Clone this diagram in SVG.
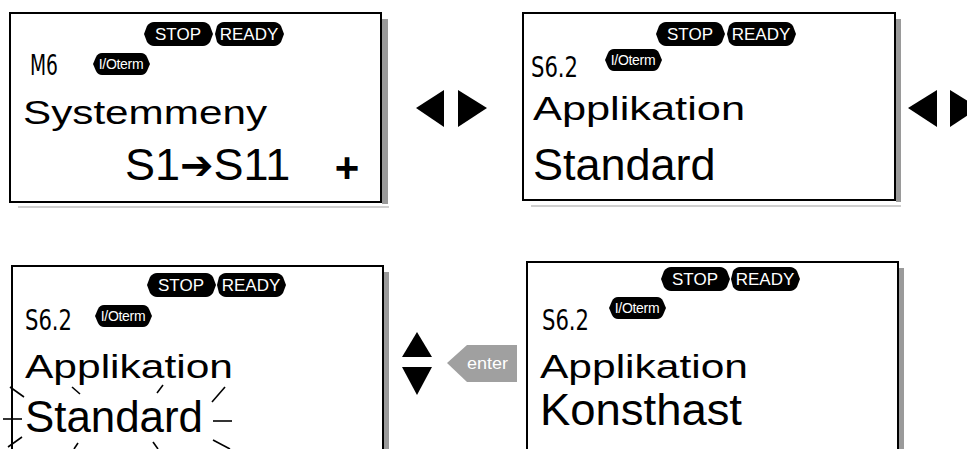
<svg xmlns="http://www.w3.org/2000/svg" width="967" height="449" viewBox="0 0 967 449">
<style>
.box{fill:#fff;stroke:#000;stroke-width:2}
.shr{fill:#9a9a9a}
.shb{stroke:#cfcfcf;stroke-width:2}
.pt{font-family:"Liberation Sans",Arial,sans-serif;font-size:17px;fill:#fff;text-anchor:middle}
.io{font-family:"Liberation Sans",Arial,sans-serif;font-size:14px;fill:#fff;text-anchor:middle;letter-spacing:-0.3px}
.seg{font-family:"DejaVu Sans Condensed","DejaVu Sans",sans-serif;font-size:28px;fill:#000}
.l1{font-family:"Liberation Sans",Arial,sans-serif;font-size:33px;fill:#000}
.l2{font-family:"Liberation Sans",Arial,sans-serif;font-size:45px;fill:#000}
.tri{fill:#000}
.spark{stroke:#000;stroke-width:1.6;fill:none}
</style>
<defs>
<path id="pillS" d="M10,0 H59 Q63,0 66,4 L69,12 L66,20 Q63,24 59,24 H10 Q6,24 3,20 L0,12 L3,4 Q6,0 10,0 Z"/>
<path id="pillR" d="M10,0 H60 Q64,0 67,4 L70,12 L67,20 Q64,24 60,24 H10 Q6,24 3,20 L1,12 L3,4 Q6,0 10,0 Z"/>
<path id="pillI" d="M9,0 H48 Q52,0 54,4 L57,11 L54,18 Q52,22 48,22 H9 Q5,22 3,18 L0,11 L3,4 Q5,0 9,0 Z"/>
</defs>

<g id="box1">
<rect class="shr" x="382" y="19" width="6" height="185"/>
<line class="shb" x1="18" y1="207" x2="389" y2="207"/>
<rect class="box" x="10" y="13" width="371" height="189"/>
<use href="#pillS" x="144" y="22"/><text class="pt" x="178" y="40">STOP</text>
<use href="#pillR" x="214" y="22"/><text class="pt" x="249" y="40">READY</text>
<text class="seg" x="30" y="75" textLength="28" lengthAdjust="spacingAndGlyphs">M6</text>
<use href="#pillI" x="93" y="53"/><text class="io" x="121" y="69">I/Oterm</text>
<text class="l1" x="23" y="124" textLength="244" lengthAdjust="spacingAndGlyphs">Systemmeny</text>
<text class="l2" x="125" y="180" font-size="42">S1<tspan font-family="DejaVu Sans,sans-serif" font-weight="bold" font-size="40" dy="-1">➔</tspan><tspan dy="1">S11</tspan></text>
<text x="347" y="182" font-family="Liberation Sans,Arial,sans-serif" font-weight="bold" font-size="42" text-anchor="middle">+</text>
</g>

<g id="box2">
<rect class="shr" x="896" y="19" width="5" height="183"/>
<line class="shb" x1="531" y1="206" x2="901" y2="206"/>
<rect class="box" x="523" y="13" width="372" height="187"/>
<use href="#pillS" x="656" y="22"/><text class="pt" x="690" y="40">STOP</text>
<use href="#pillR" x="726" y="22"/><text class="pt" x="761" y="40">READY</text>
<text class="seg" x="531" y="77" textLength="47" lengthAdjust="spacingAndGlyphs">S6.2</text>
<use href="#pillI" x="605" y="49"/><text class="io" x="633" y="65">I/Oterm</text>
<text class="l1" x="533" y="120" textLength="212" lengthAdjust="spacingAndGlyphs">Applikation</text>
<text class="l2" x="533" y="180">Standard</text>
</g>

<g id="box3">
<rect class="shr" x="384" y="272" width="5" height="177"/>
<rect class="box" x="12" y="266" width="371" height="200"/>
<use href="#pillS" x="147" y="273"/><text class="pt" x="181" y="291">STOP</text>
<use href="#pillR" x="216" y="273"/><text class="pt" x="251" y="291">READY</text>
<text class="seg" x="25" y="330" textLength="47" lengthAdjust="spacingAndGlyphs">S6.2</text>
<use href="#pillI" x="95" y="305"/><text class="io" x="123" y="321">I/Oterm</text>
<text class="l1" x="25" y="378" textLength="208" lengthAdjust="spacingAndGlyphs">Applikation</text>
<text class="l2" x="25" y="432" textLength="178" lengthAdjust="spacingAndGlyphs">Standard</text>
<g class="spark">
<line x1="10" y1="387" x2="24" y2="397"/>
<line x1="72" y1="387" x2="80" y2="394"/>
<line x1="157" y1="393" x2="163" y2="385"/>
<line x1="212" y1="402" x2="225" y2="387"/>
<line x1="213" y1="421" x2="232" y2="421"/>
<line x1="3" y1="419" x2="22" y2="419"/>
<line x1="8" y1="447" x2="22" y2="437"/>
<line x1="74" y1="449" x2="78" y2="443"/>
<line x1="153" y1="442" x2="158" y2="449"/>
<line x1="213" y1="440" x2="230" y2="449"/>
</g>
</g>

<g id="box4">
<rect class="shr" x="899" y="268" width="5" height="181"/>
<rect class="box" x="527" y="262" width="371" height="200"/>
<use href="#pillS" x="661" y="267"/><text class="pt" x="695" y="285">STOP</text>
<use href="#pillR" x="730" y="267"/><text class="pt" x="765" y="285">READY</text>
<text class="seg" x="542" y="330" textLength="47" lengthAdjust="spacingAndGlyphs">S6.2</text>
<use href="#pillI" x="609" y="297"/><text class="io" x="637" y="313">I/Oterm</text>
<text class="l1" x="540" y="378" textLength="208" lengthAdjust="spacingAndGlyphs">Applikation</text>
<text class="l2" x="540" y="425" textLength="202" lengthAdjust="spacingAndGlyphs">Konsthast</text>
</g>

<g id="connectors">
<polygon class="tri" points="416,108 444,90 444,127"/>
<polygon class="tri" points="458,90 458,127 487,108"/>
<polygon class="tri" points="908,108 937,90 937,127"/>
<polygon class="tri" points="950,90 950,127 979,108"/>
<polygon class="tri" points="402,357 432,357 417,332"/>
<polygon class="tri" points="402,367 432,367 417,395"/>
<g id="enter">
<polygon points="467,345 517,345 517,382 467,382 447,363" fill="#a0a0a0"/>
<text x="467" y="369" font-family="Liberation Sans,Arial,sans-serif" font-size="16" fill="#fff" textLength="41" lengthAdjust="spacingAndGlyphs">enter</text>
</g>
</g>
</svg>
